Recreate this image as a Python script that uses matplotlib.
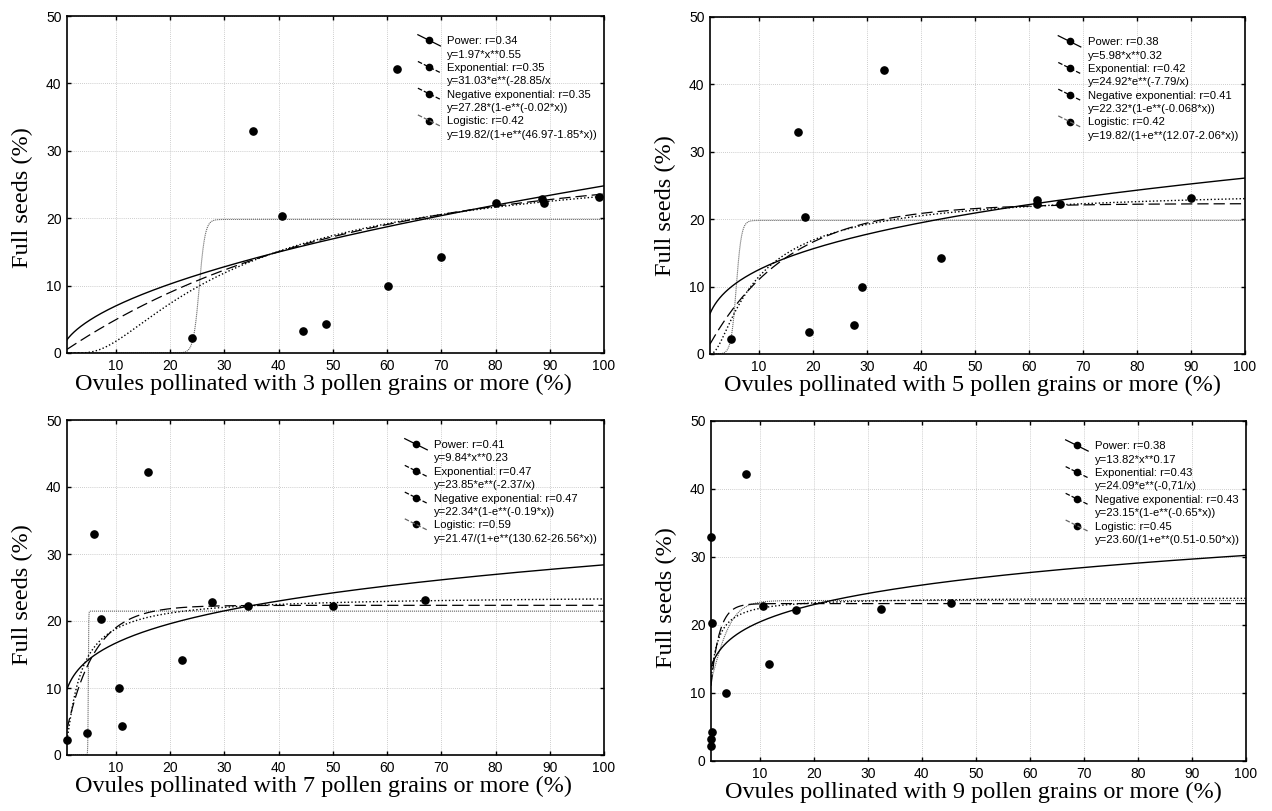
import numpy as np
import matplotlib
matplotlib.use("Agg")
import matplotlib.pyplot as plt
from matplotlib.lines import Line2D
from matplotlib.legend_handler import HandlerBase

# ---------------- data ----------------
full_seeds = [2.2, 3.3, 4.3, 10.0, 14.2, 20.3, 33.0, 42.2, 22.8, 22.3, 22.2, 23.2]

ovules_3 = [24.1, 44.6, 48.8, 60.1, 70.0, 40.7, 35.3, 61.9, 88.5, 89.0, 80.0, 99.0]
ovules_5 = [4.8, 19.4, 27.6, 29.2, 43.7, 18.5, 17.2, 33.2, 61.6, 61.5, 65.8, 90.0]
ovules_7 = [1.0, 4.7, 11.1, 10.6, 22.2, 7.3, 5.9, 16.0, 27.8, 50.0, 34.4, 67.0]
ovules_9 = [1.0, 1.0, 1.2, 3.7, 11.7, 1.2, 1.0, 7.5, 10.6, 32.5, 16.7, 45.5]

grains = [3, 5, 7, 9]

# fitted model parameters (from legends)
power_a = [1.97, 5.98, 9.84, 13.82]
power_b = [0.55, 0.32, 0.23, 0.17]
power_r = ["0.34", "0.38", "0.41", "0.38"]
power_txt = ["y=1.97*x**0.55", "y=5.98*x**0.32", "y=9.84*x**0.23", "y=13.82*x**0.17"]

expo_a = [31.03, 24.92, 23.85, 24.09]
expo_b = [28.85, 7.79, 2.37, 0.71]
expo_r = ["0.35", "0.42", "0.47", "0.43"]
expo_txt = ["y=31.03*e**(-28.85/x", "y=24.92*e**(-7.79/x)", "y=23.85*e**(-2.37/x)", "y=24.09*e**(-0,71/x)"]

negexp_a = [27.28, 22.32, 22.34, 23.15]
negexp_b = [0.02, 0.068, 0.19, 0.65]
negexp_r = ["0.35", "0.41", "0.47", "0.43"]
negexp_txt = ["y=27.28*(1-e**(-0.02*x))", "y=22.32*(1-e**(-0.068*x))",
              "y=22.34*(1-e**(-0.19*x))", "y=23.15*(1-e**(-0.65*x))"]

logi_a = [19.82, 19.82, 21.47, 23.60]
logi_b = [46.97, 12.07, 130.62, 0.51]
logi_c = [1.85, 2.06, 26.56, 0.50]
logi_r = ["0.42", "0.42", "0.59", "0.45"]
logi_txt = ["y=19.82/(1+e**(46.97-1.85*x))", "y=19.82/(1+e**(12.07-2.06*x))",
            "y=21.47/(1+e**(130.62-26.56*x))", "y=23.60/(1+e**(0.51-0.50*x))"]

ovules = [ovules_3, ovules_5, ovules_7, ovules_9]

# ---------------- style ----------------
SANS = ["Liberation Sans", "DejaVu Sans"]
SERIF = ["Liberation Serif", "DejaVu Serif"]

styles = {
    "power": dict(color="black", lw=1.0, ls="-"),
    "expo": dict(color="black", lw=1.0, ls=(0, (1, 1.6))),
    "negexp": dict(color="black", lw=0.9, ls=(0, (9, 4))),
    "logi": dict(color="#666666", lw=0.8, ls=(0, (1, 0.8))),
}


class DiagHandler(HandlerBase):
    def create_artists(self, legend, orig_handle, xdescent, ydescent,
                       width, height, fontsize, trans):
        if orig_handle.get_label() == "blank":
            empty = Line2D([], [], linestyle="none")
            empty.set_transform(trans)
            return [empty]
        x0 = -xdescent
        x1 = x0 + width
        yc = -ydescent + height / 2
        dy = height * 0.6
        ln = Line2D([x0, x1], [yc + dy, yc - dy], color=orig_handle.get_color(),
                    linestyle=orig_handle.get_linestyle(), lw=0.9)
        mk = Line2D([(x0 + x1) / 2], [yc], marker="o", ms=4.5, color="black",
                    linestyle="none")
        ln.set_transform(trans)
        mk.set_transform(trans)
        return [mk, ln]


fig = plt.figure(figsize=(12.72, 8.11), dpi=100)
positions = [
    [67 / 1272, (811 - 353) / 811, 537 / 1272, 337 / 811],
    [710 / 1272, (811 - 354) / 811, 535 / 1272, 337 / 811],
    [67 / 1272, (811 - 755) / 811, 537 / 1272, 335 / 811],
    [711 / 1272, (811 - 761) / 811, 535 / 1272, 340 / 811],
]
ylabel_pos = [0.46, 0.44, 0.48, 0.48]
xlabel_pos = [0.477, 0.49, 0.477, 0.49]

xs = np.linspace(1, 100, 2000)
for i in range(4):
    ax = fig.add_axes(positions[i])
    yp = power_a[i] * xs ** power_b[i]
    ye = expo_a[i] * np.exp(-expo_b[i] / xs)
    yn = negexp_a[i] * (1 - np.exp(-negexp_b[i] * xs))
    yl = logi_a[i] / (1 + np.exp(np.clip(logi_b[i] - logi_c[i] * xs, -50, 50)))

    ax.plot(xs, yl, **styles["logi"], zorder=2)
    ax.plot(xs, ye, **styles["expo"], zorder=3)
    ax.plot(xs, yn, **styles["negexp"], zorder=3)
    ax.plot(xs, yp, **styles["power"], zorder=4)
    ax.plot(ovules[i], full_seeds, "o", color="black", ms=5.2, clip_on=False, zorder=5)

    ax.set_xlim(1, 100)
    ax.set_ylim(0, 50)
    ax.set_xticks(np.arange(10, 101, 10))
    ax.set_yticks(np.arange(0, 51, 10))
    ax.grid(True, color="#bdbdbd", lw=0.6, ls=(0, (1, 1.5)))
    ax.set_axisbelow(True)
    ax.tick_params(direction="in", length=3, width=1, top=True, right=True,
                   labelsize=10, pad=4)
    for lab in ax.get_xticklabels() + ax.get_yticklabels():
        lab.set_family(SANS)
    for s in ax.spines.values():
        s.set_linewidth(1.2)

    ax.set_xlabel(f"Ovules pollinated with {grains[i]} pollen grains or more (%)",
                  family=SERIF, fontsize=17.5)
    ax.set_ylabel("Full seeds (%)", family=SERIF, fontsize=17.5)
    ax.yaxis.set_label_coords(-0.064, ylabel_pos[i])
    xl_y = -(21.0 / (positions[i][3] * 811))
    ax.xaxis.set_label_coords(xlabel_pos[i], xl_y)

    names = ["Power", "Exponential", "Negative exponential", "Logistic"]
    rs = [power_r[i], expo_r[i], negexp_r[i], logi_r[i]]
    eqs = [power_txt[i], expo_txt[i], negexp_txt[i], logi_txt[i]]
    keys = ["power", "expo", "negexp", "logi"]
    handles, labels = [], []
    for k, nm, r, eq in zip(keys, names, rs, eqs):
        st = styles[k]
        handles.append(Line2D([], [], color=st["color"], ls=st["ls"], label="h"))
        labels.append(f"{nm}: r={r}")
        handles.append(Line2D([], [], label="blank"))
        labels.append(eq)
    leg = ax.legend(handles, labels, loc="upper right", bbox_to_anchor=(0.997, 0.955),
                    frameon=False, prop={"family": SANS, "size": 8.1},
                    handler_map={Line2D: DiagHandler()}, handlelength=2.0,
                    handleheight=0.9, handletextpad=0.6, labelspacing=0.25,
                    borderaxespad=0)

fig.savefig("out.png", dpi=100)
